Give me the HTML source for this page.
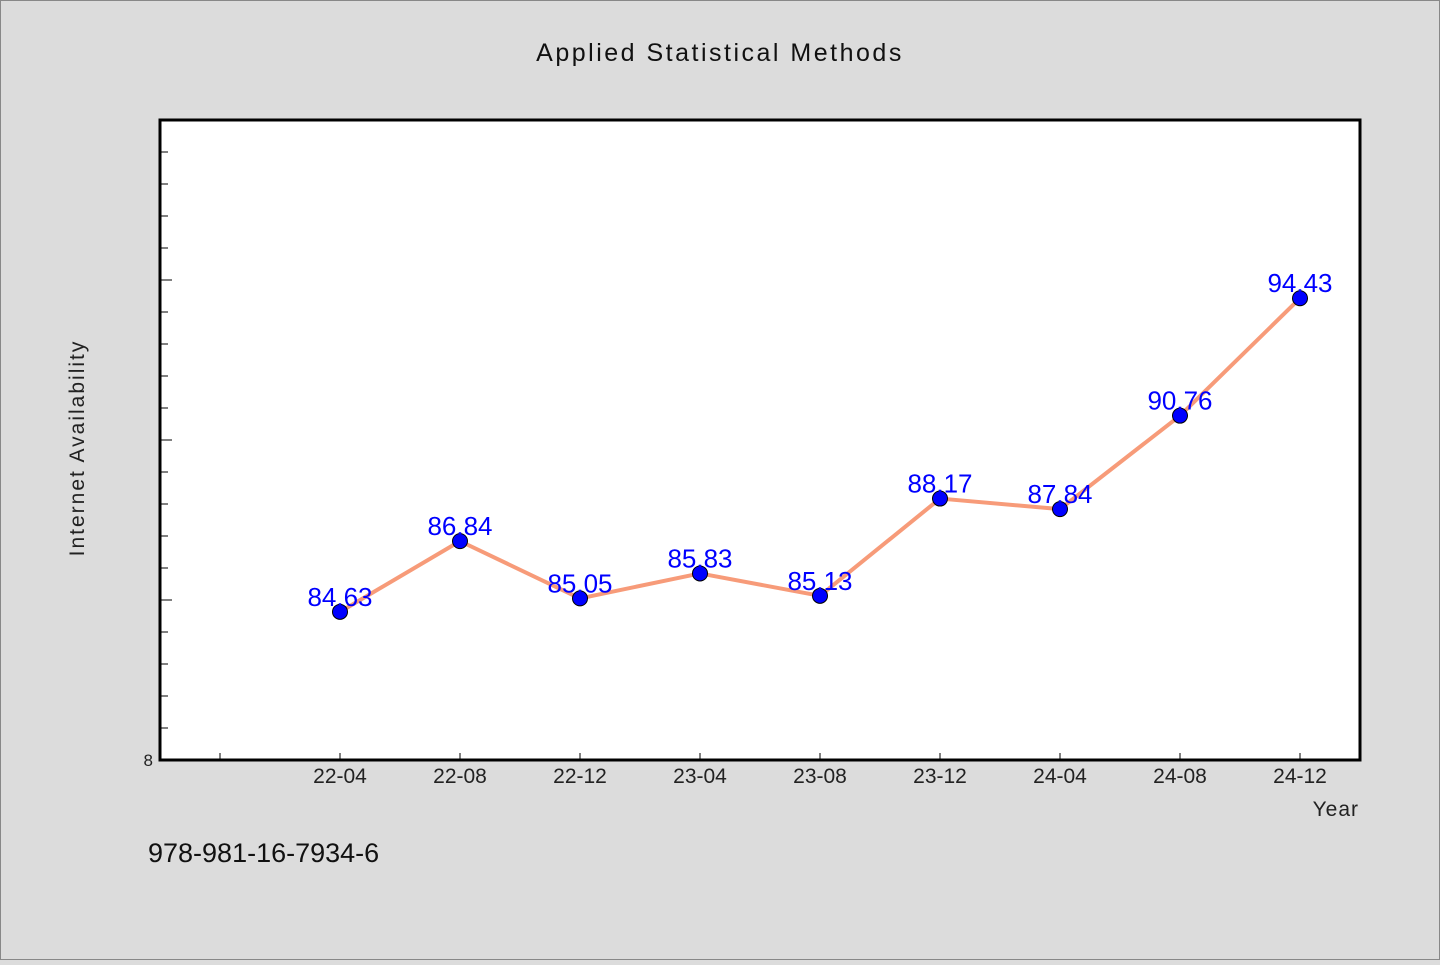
<!DOCTYPE html>
<html><head><meta charset="utf-8"><style>
html,body{margin:0;padding:0;background:#dcdcdc;}
svg text{font-family:"WenQuanYi Zen Hei","Liberation Sans",sans-serif;}
</style></head><body>
<svg id="chart" width="1440" height="960" xmlns="http://www.w3.org/2000/svg">
<rect x="0.5" y="0.5" width="1439" height="959" fill="#dcdcdc" stroke="#888"/>
<text x="720" y="61" text-anchor="middle" font-size="25" letter-spacing="2.5" fill="#111">Applied Statistical Methods</text>
<rect x="160" y="120" width="1200" height="640" fill="#fff"/>
<g id="yticks"></g><g id="xticks"></g>
<rect x="160" y="120" width="1200" height="640" fill="none" stroke="#000" stroke-width="3"/>
<text x="153" y="766" text-anchor="end" font-size="17" fill="#222">8</text>
<text transform="translate(84,448) rotate(-90)" text-anchor="middle" font-size="21" letter-spacing="2" fill="#222">Internet Availability</text>
<text x="1359" y="816" text-anchor="end" font-size="21" letter-spacing="1" fill="#222">Year</text>
<text x="148" y="862" font-size="27" fill="#111">978-981-16-7934-6</text>
<g id="series"></g>
</svg>
<script>
const categories = ["22-04","22-08","22-12","23-04","23-08","23-12","24-04","24-08","24-12"];
const values = [84.63, 86.84, 85.05, 85.83, 85.13, 88.17, 87.84, 90.76, 94.43];
const labels = ["84.63","86.84","85.05","85.83","85.13","88.17","87.84","90.76","94.43"];
const yMin = 80, yMax = 100;
const NS = "http://www.w3.org/2000/svg";
const L = 160, R = 1360, T = 120, B = 760;
function x(i){ return L + 60 + (i + 1) * 120; }
function y(v){ return B - (v - yMin) / (yMax - yMin) * (B - T); }
function mk(tag, attrs, parent){ const e = document.createElementNS(NS, tag); for (const k in attrs) e.setAttribute(k, attrs[k]); parent.appendChild(e); return e; }
const yt = document.getElementById('yticks');
for (let v = yMin + 1; v < yMax; v++) {
  const major = v % 5 === 0;
  const t = mk('line', {x1: L, x2: L + (major ? 12 : 8), y1: y(v), y2: y(v), stroke: '#000', 'stroke-width': 1}, yt);
  
  
}
const xt = document.getElementById('xticks');
for (let i = -1; i < categories.length; i++) {
  const t = mk('line', {x1: x(i), x2: x(i), y1: B, y2: B - 7, stroke: '#000', 'stroke-width': 1}, xt);
  
  
  if (i >= 0) {
    const tx = mk('text', {x: x(i), y: 783, 'text-anchor': 'middle', 'font-size': 21, fill: '#222'}, xt);
    tx.textContent = categories[i];
    
    
  }
}
const s = document.getElementById('series');
const pl = mk('polyline', {points: values.map((v, i) => x(i) + ',' + y(v)).join(' '), fill: 'none', stroke: '#f79b79', 'stroke-width': 4, 'stroke-linejoin': 'round'}, s);


values.forEach((v, i) => {
  const c = mk('circle', {cx: x(i), cy: y(v), r: 7.5, fill: '#0000ff', stroke: '#000', 'stroke-width': 1}, s);
  
  
  const t = mk('text', {x: x(i), y: y(v) - 6, 'text-anchor': 'middle', 'font-size': 26, fill: '#0000ff'}, s);
  t.textContent = labels[i];
  
  
});
</script>
</body></html>
